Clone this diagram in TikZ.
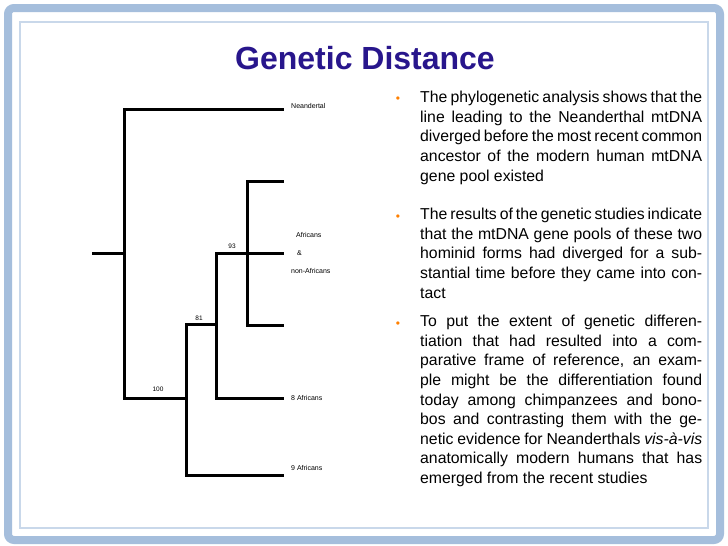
\documentclass[tikz,border=0pt]{standalone}
\usepackage{fontspec}
\setmainfont{Liberation Sans}
\definecolor{titleblue}{RGB}{40,22,140}
\definecolor{frameblue}{RGB}{165,190,220}
\newcommand\myNoHy{\hyphenpenalty=10000 \exhyphenpenalty=10000\relax}
\begin{document}
\begin{tikzpicture}[x=1pt,y=-1pt,
  br/.style={line width=3pt,line cap=rect},
  lab/.style={font=\fontsize{7}{8}\selectfont,inner sep=0pt,anchor=west},
  bs/.style={font=\fontsize{6.5}{7}\selectfont,inner sep=0pt},
  bul/.style={anchor=north west,inner sep=0pt,text width=282pt,align=justify,font=\fontsize{15.8}{19.6}\selectfont}]
\useasboundingbox (0,0) rectangle (728,546);
\fill[white] (0,0) rectangle (728,546);
\draw[frameblue,line width=8pt,rounded corners=6pt] (8,8) rectangle (720,540);
\draw[frameblue!60,line width=1.5pt] (20,22) rectangle (708,528);
\node[font=\fontsize{32}{36}\selectfont\bfseries,text=titleblue] (title) at (365,58) {Genetic Distance};
% tree
\coordinate (r0) at (93,253);
\coordinate (r1) at (124,253);
\coordinate (nt) at (124,109);
\coordinate (nb) at (124,398);
\coordinate (ne) at (282,109);
\coordinate (a1) at (186,398);
\coordinate (a1t) at (186,324);
\coordinate (a1b) at (186,475);
\coordinate (a1e) at (282,475);
\coordinate (a2) at (216,324);
\coordinate (a2t) at (216,253);
\coordinate (a2b) at (216,398);
\coordinate (a2e) at (282,398);
\coordinate (a3e) at (282,253);
\coordinate (a4t) at (247,181);
\coordinate (a4b) at (247,325);
\coordinate (a4te) at (282,181);
\coordinate (a4be) at (282,325);
\draw[br] (r0) -- (r1);
\draw[br] (ne) -- (nt) -- (nb) -- (a1);
\draw[br] (a1e) -- (a1b) -- (a1t) -- (a2);
\draw[br] (a2e) -- (a2b) -- (a2t) -- (a3e);
\draw[br] (a4te) -- (a4t) -- (a4b) -- (a4be);
\node[lab] (lneand) at (291,106) {Neandertal};
\node[bs] (l100) at (158,389) {100};
\node[bs] (l81) at (199,318) {81};
\node[bs] (l93) at (232,246) {93};
\node[lab] (laf1) at (296,235) {Africans};
\node[lab] (lamp) at (297,253) {\&};
\node[lab] (laf2) at (291,271) {non-Africans};
\node[lab] (l8) at (291,398) {8 Africans};
\node[lab] (l9) at (291,468) {9 Africans};
% bullets
\foreach \y/\n in {100/b1,218/b2,325/b3}
  \node[text=orange,font=\fontsize{12}{12}\selectfont] (\n) at (398,\y) {\textbullet};
\node[bul] (t1) at (420,91) {\myNoHy The phylogenetic analysis shows that the line leading to the Neanderthal mtDNA diverged before the most recent common ancestor of the modern human mtDNA gene pool existed};
\node[bul] (t2) at (420,208) {\myNoHy The results of the genetic studies indicate that the mtDNA gene pools of these two hominid forms had diverged for a substantial time before they came into contact};
\node[bul] (t3) at (420,315) {\myNoHy To put the extent of genetic differentiation that had resulted into a comparative frame of reference, an example might be the differentiation found today among chimpanzees and bonobos and contrasting them with the genetic evidence for Neanderthals \emph{vis-à-vis} anatomically modern humans that has emerged from the recent studies};
\end{tikzpicture}
\end{document}
